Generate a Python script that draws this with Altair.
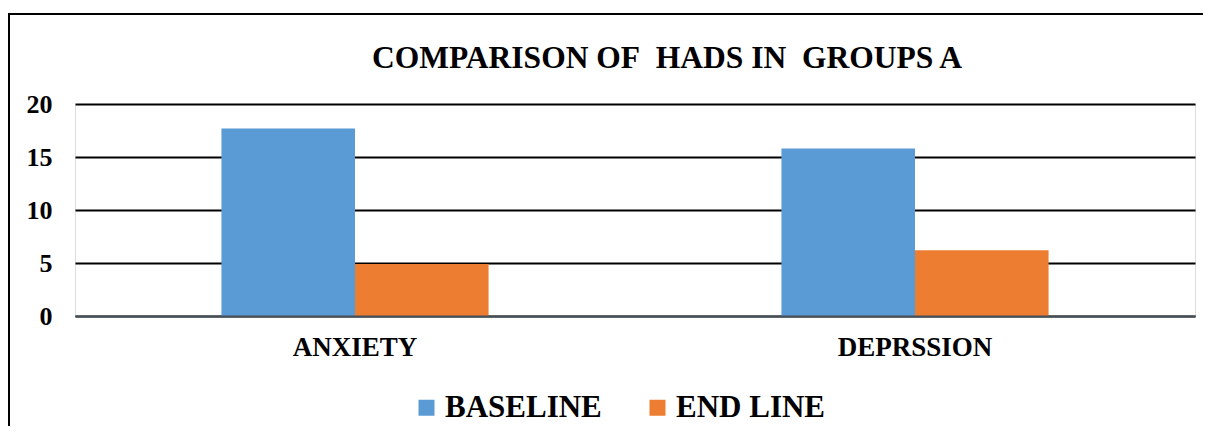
import altair as alt
import pandas as pd

categories = ["ANXIETY", "DEPRSSION"]
series = ["BASELINE", "END LINE"]
baseline_values = [17.7, 15.8]
endline_values = [4.9, 6.2]
y_ticks = [0, 5, 10, 15, 20]
title_text = "COMPARISON OF\u00a0 HADS IN\u00a0 GROUPS A"
colors = ["#5B9BD5", "#ED7D31"]

rows = []
for c, b, e in zip(categories, baseline_values, endline_values):
    rows.append({"category": c, "series": series[0], "value": b})
    rows.append({"category": c, "series": series[1], "value": e})
df = pd.DataFrame(rows)

FONT = "'Liberation Serif', 'Times New Roman', 'DejaVu Serif', serif"

bars = alt.Chart(df).mark_bar(stroke=None).encode(
    x=alt.X(
        "category:N",
        sort=categories,
        title=None,
        scale=alt.Scale(paddingInner=0.523, paddingOuter=0.2615),
        axis=alt.Axis(
            labelAngle=0,
            labelFont=FONT,
            labelFontSize=27,
            labelFontWeight="bold",
            labelColor="black",
            labelBaseline="top",
            labelPadding=18,
            ticks=False,
            domain=True,
            domainColor="#454f58",
            domainWidth=2,
            zindex=1,
            grid=False,
        ),
    ),
    xOffset=alt.XOffset("series:N", sort=series, scale=alt.Scale(paddingInner=0, paddingOuter=0)),
    y=alt.Y(
        "value:Q",
        title=None,
        scale=alt.Scale(domain=[0, 20], nice=False),
        axis=alt.Axis(
            values=y_ticks,
            labelFont=FONT,
            labelFontSize=26,
            labelFontWeight="bold",
            labelColor="black",
            labelPadding=23,
            ticks=False,
            domain=False,
            grid=True,
            gridColor="black",
            gridWidth=2,
        ),
    ),
    color=alt.Color(
        "series:N",
        sort=series,
        scale=alt.Scale(domain=series, range=colors),
        legend=alt.Legend(
            title=None,
            orient="none",
            legendX=336,
            legendY=288,
            direction="horizontal",
            symbolType="square",
            symbolSize=256,
            symbolStrokeWidth=0,
            symbolOpacity=1,
            labelFont=FONT,
            labelFontSize=31,
            labelFontWeight="bold",
            labelColor="black",
            labelOffset=3,
            columnPadding=40,
            padding=0,
        ),
    ),
)

border = alt.Chart(pd.DataFrame({"k": [0]})).mark_rect(
    fill="white", fillOpacity=0, stroke="black", strokeWidth=2
).encode(
    x=alt.value(-66), x2=alt.value(1400), y=alt.value(-90), y2=alt.value(500)
)

title = alt.Chart(pd.DataFrame({"t": [title_text]})).mark_text(
    font=FONT, fontSize=31.5, fontWeight="bold", color="black",
    align="center", baseline="alphabetic"
).encode(text="t:N", x=alt.value(592), y=alt.value(-36))

chart = alt.layer(border, bars, title).properties(
    width=1120,
    height=212,
    autosize=alt.AutoSizeParams(type="none"),
    padding={"left": 67, "top": 96, "right": 8, "bottom": 110},
).configure_view(
    stroke="#454f58", strokeWidth=2
).configure(background="white")

chart.save("out.html", embed_options={"renderer": "svg", "actions": False})
